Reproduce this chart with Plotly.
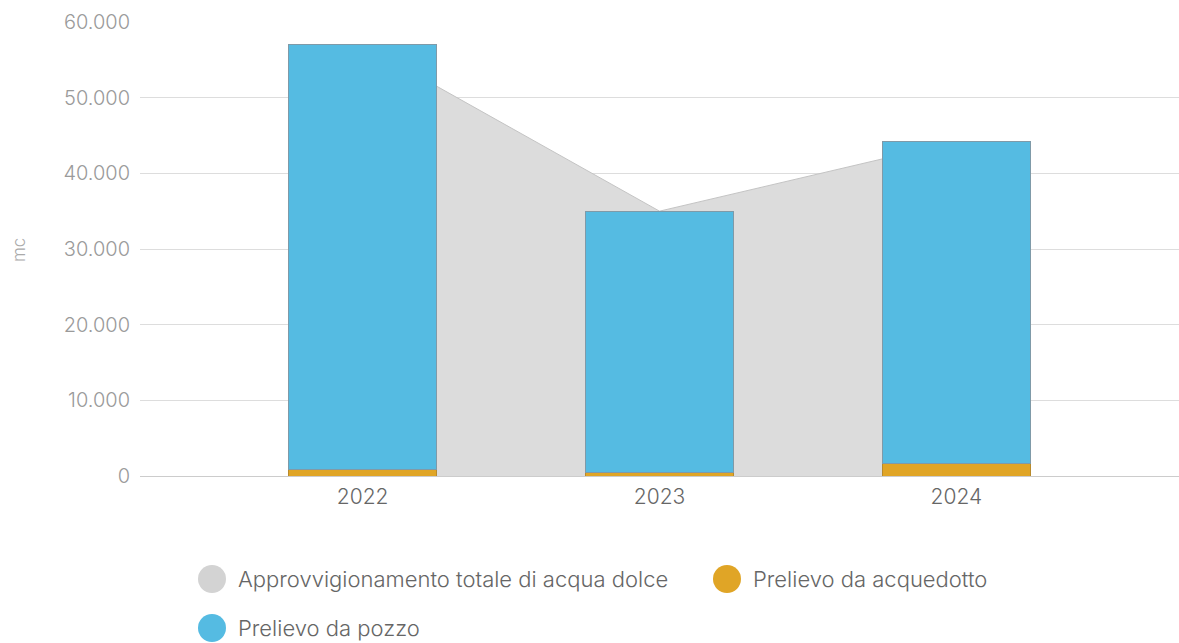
import plotly.graph_objects as go

# Dati (metri cubi)
anni = ["2022", "2023", "2024"]
totale = [57000, 35000, 44200]
acquedotto = [800, 500, 1600]
pozzo = [56200, 34500, 42600]
y_ticks = [0, 10000, 20000, 30000, 40000, 50000, 60000]

serie_legenda = [
    "Approvvigionamento totale di acqua dolce",
    "Prelievo da acquedotto",
    "Prelievo da pozzo",
]
colori = ["#d3d3d3", "#e0a526", "#55bbe2"]

W, H = 1179, 643
ML, MR, MT, MB = 140, 0, 22, 167
PW, PH = W - ML - MR, H - MT - MB

FONT = "Inter"
PESO = 300

fig = go.Figure()

# Area of the total supply, drawn behind the stacked bars
fig.add_trace(go.Scatter(
    x=anni, y=totale, mode="lines", fill="tozeroy",
    line=dict(color="#c4c4c4", width=1), fillcolor="#dcdcdc",
    name=serie_legenda[0], showlegend=False, zorder=-1,
    hoverinfo="skip",
))

fig.add_trace(go.Bar(
    x=anni, y=acquedotto, name=serie_legenda[1], width=0.5,
    marker=dict(color=colori[1], line=dict(color="#b88a2c", width=1)),
    showlegend=False,
))
fig.add_trace(go.Bar(
    x=anni, y=pozzo, name=serie_legenda[2], width=0.5,
    marker=dict(color=colori[2], line=dict(color="#7f9aa8", width=1)),
    showlegend=False,
))


def px_to_paper(px, py):
    return (px - ML) / PW, (MT + PH - py) / PH


# Legend: circle swatches and labels
voci = [(212, 579, 236), (727, 579, 751), (212, 628, 236)]
shapes = []
annotations = []
for (cx, cy, tx), nome, col in zip(voci, serie_legenda, colori):
    ax, ay = px_to_paper(cx, cy)
    shapes.append(dict(
        type="circle", xref="paper", yref="paper",
        xsizemode="pixel", ysizemode="pixel",
        xanchor=ax, yanchor=ay, x0=-14, x1=14, y0=-14, y1=14,
        fillcolor=col, line=dict(width=0),
    ))
    lx, ly = px_to_paper(tx, cy)
    annotations.append(dict(
        text=nome, xref="paper", yref="paper", x=lx, y=ly,
        xanchor="left", yanchor="middle", showarrow=False,
        font=dict(family=FONT, size=22, color="#666666", weight=PESO),
    ))

# Unit label on the value axis
ux, uy = px_to_paper(19, 250)
annotations.append(dict(
    text="mc", xref="paper", yref="paper", x=ux, y=uy,
    xanchor="center", yanchor="middle", showarrow=False, textangle=-90,
    font=dict(family=FONT, size=17, color="#aaaaaa", weight=PESO),
))

fig.update_layout(
    width=W, height=H,
    margin=dict(l=ML, r=MR, t=MT, b=MB, pad=0),
    paper_bgcolor="white", plot_bgcolor="white",
    barmode="stack", separators=",.",
    font=dict(family=FONT, weight=PESO),
    shapes=shapes, annotations=annotations,
    showlegend=False,
)
fig.update_xaxes(
    type="category", range=[-0.75, 2.75],
    showgrid=False, showline=False, zeroline=False, ticks="",
    tickfont=dict(family=FONT, size=21, color="#666666", weight=PESO),
    ticklabelstandoff=6,
)
fig.update_yaxes(
    range=[0, 60000], tickvals=y_ticks, tickformat=",d",
    showgrid=True, gridcolor="#dddddd", gridwidth=1,
    zeroline=True, zerolinecolor="#cccccc", zerolinewidth=1,
    showline=False, ticks="",
    tickfont=dict(family=FONT, size=20, color="#9a9a9a", weight=PESO),
    ticklabelstandoff=9,
)

fig.write_html("out.html")
